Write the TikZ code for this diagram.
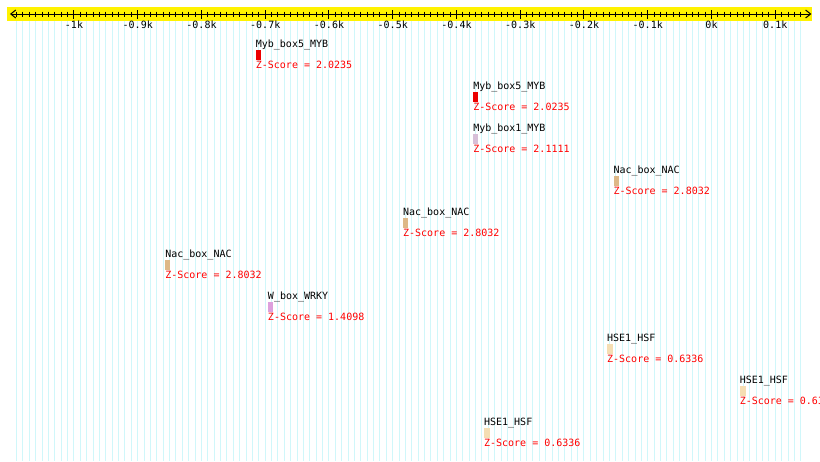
\documentclass[tikz,border=0pt]{standalone}
\usepackage{fontspec}
\setmonofont{DejaVu Sans Mono}
\usepackage{tikz}
\usetikzlibrary{arrows.meta, positioning}
\definecolor{gridcyan}{RGB}{208,247,250}
\definecolor{mybred}{RGB}{236,0,0}
\definecolor{mybpale}{RGB}{216,191,216}
\definecolor{nactan}{RGB}{222,184,135}
\definecolor{wboxplum}{RGB}{221,160,221}
\definecolor{hsewheat}{RGB}{245,222,179}
\begin{document}
\begin{tikzpicture}[
                x=0.6375pt, y=-1pt,
                gridline/.style={draw=gridcyan, line width=1pt},
                axis/.style={line width=1pt, {Straight Barb[length=5pt,width=8pt]}-{Straight Barb[length=5pt,width=8pt]}},
                minortick/.style={line width=1pt},
                majortick/.style={line width=1pt},
                ticklabel/.style={anchor=base, inner sep=0pt, font=\ttfamily\fontsize{10}{12}\selectfont},
                motif/.style={rectangle, anchor=north west, inner sep=0pt, minimum width=5pt, minimum height=10pt},
                motifname/.style={anchor=base west, inner sep=0pt, font=\ttfamily\fontsize{10}{12}\selectfont},
                zscore/.style={anchor=base west, inner sep=0pt, text=red, font=\ttfamily\fontsize{10}{12}\selectfont}
            ]%
            \useasboundingbox (-1116.078,0) rectangle (170.196,461);
            %
            % Rejilla vertical (cada 10 pb)
            \foreach \p in {-1090,-1080,...,140}
                \draw[gridline] (\p,20.7) -- (\p,461);
            %
            % Regla de posiciones
            \fill[yellow] (-1105.1,7) rectangle (158.4,20.7);
            \coordinate (lend) at (-1100.4,14);
            \coordinate (rend) at (156.7,14);
            \draw[axis] (lend) -- (rend);
            \foreach \p in {-1090,-1080,...,140}
                \draw[minortick] (\p,11.5) -- (\p,16.5);
            \foreach \t [count=\k] in {-1k,-0.9k,-0.8k,-0.7k,-0.6k,-0.5k,-0.4k,-0.3k,-0.2k,-0.1k,0k,0.1k}{
                \draw[majortick] ({-1100+100*\k},10) -- ({-1100+100*\k},18.5);
                \node[ticklabel] (tick\k) at ({-1100+100*\k},28.5) {\t};
            }
            %
            % Motivos (caja, nombre y Z-Score)
            \node[motif, fill=mybred] (m1) at (-715,49.5) {};
            \node[motifname] (n1) at ([yshift=2pt]m1.north west) {Myb\_box5\_MYB};
            \node[zscore] (s1) at ([yshift=-8.5pt]m1.south west) {Z-Score = 2.0235};
            %
            \node[motif, fill=mybred] (m2) at (-374,91.5) {};
            \node[motifname] (n2) at ([yshift=2pt]m2.north west) {Myb\_box5\_MYB};
            \node[zscore] (s2) at ([yshift=-8.5pt]m2.south west) {Z-Score = 2.0235};
            %
            \node[motif, fill=mybpale] (m3) at (-374,133.5) {};
            \node[motifname] (n3) at ([yshift=2pt]m3.north west) {Myb\_box1\_MYB};
            \node[zscore] (s3) at ([yshift=-8.5pt]m3.south west) {Z-Score = 2.1111};
            %
            \node[motif, fill=nactan] (m4) at (-154,175.5) {};
            \node[motifname] (n4) at ([yshift=2pt]m4.north west) {Nac\_box\_NAC};
            \node[zscore] (s4) at ([yshift=-8.5pt]m4.south west) {Z-Score = 2.8032};
            %
            \node[motif, fill=nactan] (m5) at (-484,217.5) {};
            \node[motifname] (n5) at ([yshift=2pt]m5.north west) {Nac\_box\_NAC};
            \node[zscore] (s5) at ([yshift=-8.5pt]m5.south west) {Z-Score = 2.8032};
            %
            \node[motif, fill=nactan] (m6) at (-857,259.5) {};
            \node[motifname] (n6) at ([yshift=2pt]m6.north west) {Nac\_box\_NAC};
            \node[zscore] (s6) at ([yshift=-8.5pt]m6.south west) {Z-Score = 2.8032};
            %
            \node[motif, fill=wboxplum] (m7) at (-696,301.5) {};
            \node[motifname] (n7) at ([yshift=2pt]m7.north west) {W\_box\_WRKY};
            \node[zscore] (s7) at ([yshift=-8.5pt]m7.south west) {Z-Score = 1.4098};
            %
            \node[motif, fill=hsewheat, minimum width=6pt] (m8) at (-164,343.5) {};
            \node[motifname] (n8) at ([yshift=2pt]m8.north west) {HSE1\_HSF};
            \node[zscore] (s8) at ([yshift=-8.5pt]m8.south west) {Z-Score = 0.6336};
            %
            \node[motif, fill=hsewheat, minimum width=6pt] (m9) at (44,385.5) {};
            \node[motifname] (n9) at ([yshift=2pt]m9.north west) {HSE1\_HSF};
            \node[zscore] (s9) at ([yshift=-8.5pt]m9.south west) {Z-Score = 0.6336};
            %
            \node[motif, fill=hsewheat, minimum width=6pt] (m10) at (-357,427.5) {};
            \node[motifname] (n10) at ([yshift=2pt]m10.north west) {HSE1\_HSF};
            \node[zscore] (s10) at ([yshift=-8.5pt]m10.south west) {Z-Score = 0.6336};
        \end{tikzpicture}
\end{document}
